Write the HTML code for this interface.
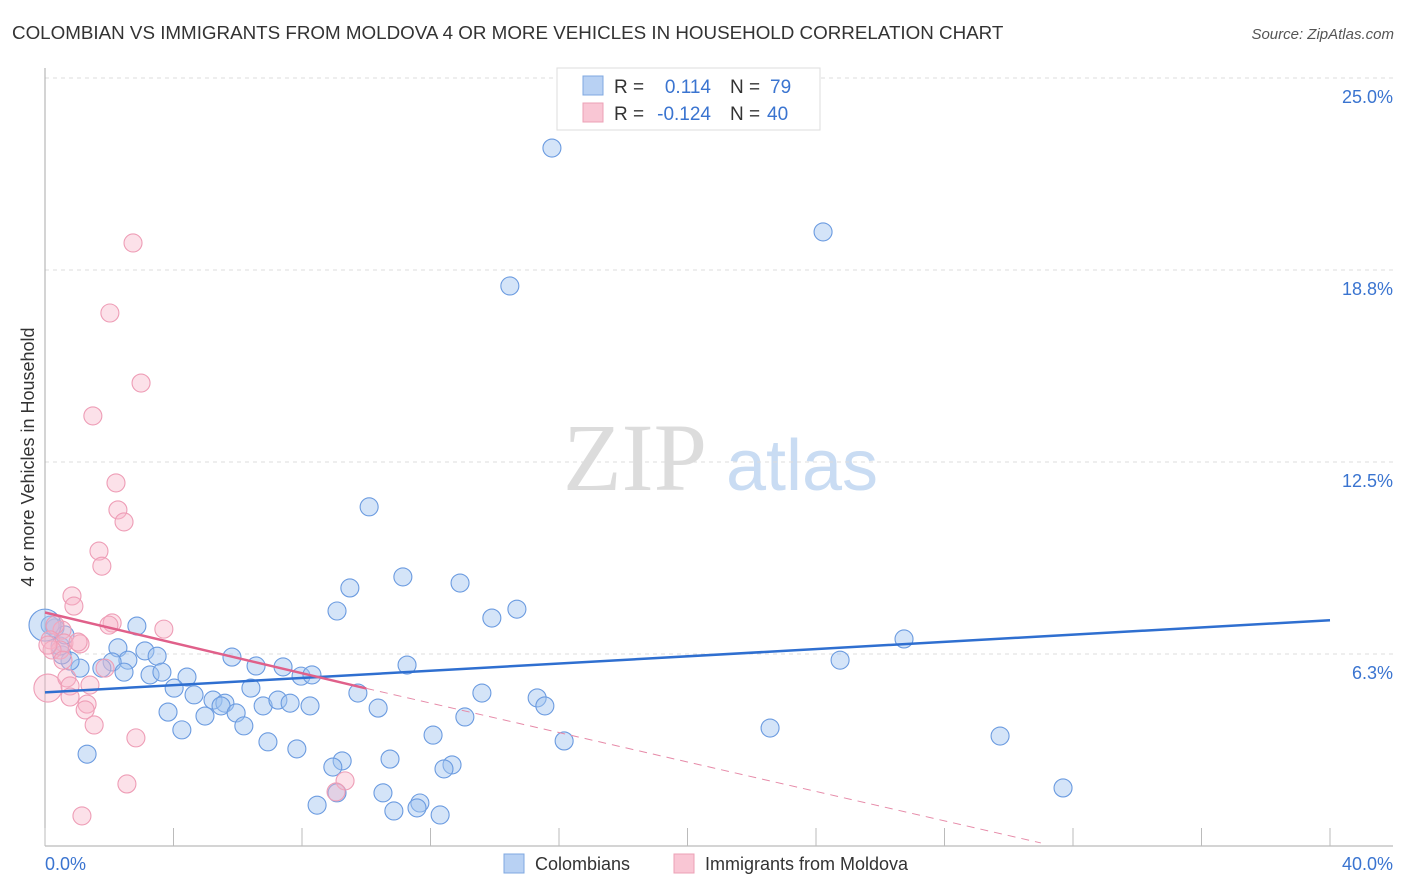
<!DOCTYPE html>
<html><head><meta charset="utf-8"><style>
body{margin:0;background:#fff;font-family:"Liberation Sans",sans-serif}
</style></head><body>
<svg id="chart" width="1406" height="892" xmlns="http://www.w3.org/2000/svg" style="display:block">
<text x="12" y="39" font-size="18.8" fill="#333">COLOMBIAN VS IMMIGRANTS FROM MOLDOVA 4 OR MORE VEHICLES IN HOUSEHOLD CORRELATION CHART</text>
<text x="1394" y="39" font-size="15" fill="#555" text-anchor="end" font-style="italic">Source: ZipAtlas.com</text>
<g>
<text x="635" y="490" font-size="96" fill="#dcdcdc" font-family="Liberation Serif,serif" text-anchor="middle">ZIP</text>
<text x="802" y="490" font-size="72" fill="#c9dcf3" text-anchor="middle">atlas</text>
</g>
<g id="grid"></g>
<g id="axes"></g>
<g id="marks"></g>
<text transform="translate(34,457) rotate(-90)" font-size="18" fill="#333" text-anchor="middle">4 or more Vehicles in Household</text>
<g>
<rect x="557" y="68" width="263" height="62" fill="#fff" stroke="#ddd"/>
<rect x="583" y="76" width="20" height="19" fill="#b8d1f3" stroke="#7fa8e0"/>
<rect x="583" y="103" width="20" height="19" fill="#f9c6d4" stroke="#eca0b6"/>
<text x="614" y="93" font-size="19" fill="#333">R =</text>
<text x="711" y="93" font-size="19" fill="#3a74d0" text-anchor="end">0.114</text>
<text x="730" y="93" font-size="19" fill="#333">N =</text>
<text x="770" y="93" font-size="19" fill="#3a74d0">79</text>
<text x="614" y="120" font-size="19" fill="#333">R =</text>
<text x="711" y="120" font-size="19" fill="#3a74d0" text-anchor="end">-0.124</text>
<text x="730" y="120" font-size="19" fill="#333">N =</text>
<text x="767" y="120" font-size="19" fill="#3a74d0">40</text>
</g>
<g>
<rect x="504" y="854" width="20" height="19" fill="#b8d1f3" stroke="#7fa8e0"/>
<text x="535" y="870" font-size="18" fill="#333">Colombians</text>
<rect x="674" y="854" width="20" height="19" fill="#f9c6d4" stroke="#eca0b6"/>
<text x="705" y="870" font-size="18" fill="#333">Immigrants from Moldova</text>
</g>
</svg>
<script>
const blueX=[15.78,24.22,14.47,10.09,11.14,9.49,12.92,9.09,14.69,13.91,26.74,24.75,11.27,2.86,2.27,3.11,3.49,2.58,2.09,1.77,1.09,0.78,0.53,0.47,0.31,0.16,0.62,2.46,3.27,3.64,4.42,5.82,6.57,7.41,7.97,8.31,4.02,4.64,6.41,9.74,13.60,15.32,15.56,5.23,5.60,5.48,4.98,5.95,6.79,7.25,7.63,8.25,3.83,4.26,6.19,10.37,13.07,12.08,22.57,29.73,6.94,7.84,16.16,1.31,9.25,8.96,10.74,12.67,12.42,31.69,8.47,9.09,10.52,11.67,10.86,11.58,12.30,0.0];
const blueY=[22.72,19.99,18.23,11.04,8.76,8.40,8.56,7.65,7.71,7.42,6.74,6.05,5.89,7.16,6.45,6.35,6.18,6.05,5.99,5.79,5.79,6.02,6.22,6.51,7.10,7.19,6.87,5.66,5.57,5.66,5.50,6.15,5.86,5.83,5.53,5.57,5.14,4.92,5.14,4.98,4.98,4.82,4.56,4.75,4.65,4.56,4.23,4.33,4.56,4.75,4.65,4.56,4.36,3.78,3.91,4.49,4.20,3.61,3.84,3.58,3.39,3.16,3.42,2.99,2.77,2.57,2.83,2.64,2.51,1.89,1.33,1.73,1.73,1.40,1.14,1.24,1.01,7.19];
const pinkX=[2.74,2.02,2.99,1.49,2.21,2.27,2.46,1.68,1.77,0.84,0.90,2.09,1.99,3.70,0.53,0.31,0.16,0.59,1.09,0.47,0.22,0.09,0.68,0.78,1.40,0.78,1.31,1.25,1.53,2.83,2.55,1.15,9.34,9.06,0.09,1.87,0.56,1.03];
const pinkY=[19.63,17.35,15.07,14.00,11.82,10.94,10.55,9.60,9.11,8.14,7.81,7.26,7.19,7.06,7.03,7.19,6.71,6.61,6.58,6.38,6.38,5.14,5.47,5.21,5.24,4.85,4.62,4.43,3.94,3.52,2.02,0.98,2.12,1.76,6.54,5.79,6.05,6.64];
const yTicks=[6.25,12.5,18.75,25.0];
const yTickLabels=["6.3%","12.5%","18.8%","25.0%"];
const blueTrend=[5.0,7.35];
const pinkTrend=[7.6,5.13,0.1];
const pinkTrendX=[0,10,31];
const NS="http://www.w3.org/2000/svg";
const X=v=>45+v/40*1285, Y=v=>846-v/25*768;
function mk(tag,attrs,parent){const e=document.createElementNS(NS,tag);for(const k in attrs)e.setAttribute(k,attrs[k]);document.getElementById(parent).appendChild(e);return e;}
yTicks.forEach((t,i)=>{
 const g=mk('line',{x1:45,x2:1393,y1:Y(t),y2:Y(t),stroke:'#ddd','stroke-dasharray':'4,4'},'grid');
 
 
 const l=mk('text',{x:1393,y:Y(t)+25,'font-size':18,fill:'#3a74d0','text-anchor':'end'},'grid');
 
 
 l.textContent=yTickLabels[i];
});
let a=mk('line',{x1:45,x2:45,y1:68,y2:846,stroke:'#aaa'},'axes');


a=mk('line',{x1:45,x2:1393,y1:846,y2:846,stroke:'#aaa'},'axes');


for(let i=0;i<=10;i++){const t=mk('line',{x1:X(i*4),x2:X(i*4),y1:828,y2:846,stroke:'#bbb'},'axes');
 
 }
let xl=mk('text',{x:45,y:870,'font-size':18,fill:'#3a74d0'},'axes');xl.textContent='0.0%';


xl=mk('text',{x:1393,y:870,'font-size':18,fill:'#3a74d0','text-anchor':'end'},'axes');xl.textContent='40.0%';


blueX.forEach((x,i)=>{const c=mk('circle',{cx:X(x),cy:Y(blueY[i]),r:(i==blueX.length-1)?16:9,fill:'rgba(160,195,240,0.45)',stroke:'#6b9be0','stroke-width':1.1},'marks');
 
 });
pinkX.forEach((x,i)=>{const c=mk('circle',{cx:X(x),cy:Y(pinkY[i]),r:(i==21)?14:9,fill:'rgba(248,180,200,0.4)',stroke:'#ee9db6','stroke-width':1.1},'marks');
 
 });
let tl=mk('line',{x1:X(0),y1:Y(blueTrend[0]),x2:X(40),y2:Y(blueTrend[1]),stroke:'#2f6fd0','stroke-width':2.5},'marks');


tl=mk('line',{x1:X(pinkTrendX[0]),y1:Y(pinkTrend[0]),x2:X(pinkTrendX[1]),y2:Y(pinkTrend[1]),stroke:'#e0608a','stroke-width':2.5},'marks');


tl=mk('line',{x1:X(pinkTrendX[1]),y1:Y(pinkTrend[1]),x2:X(pinkTrendX[2]),y2:Y(pinkTrend[2]),stroke:'#e68aa8','stroke-width':1,'stroke-dasharray':'8,6'},'marks');


</script>
</body></html>
